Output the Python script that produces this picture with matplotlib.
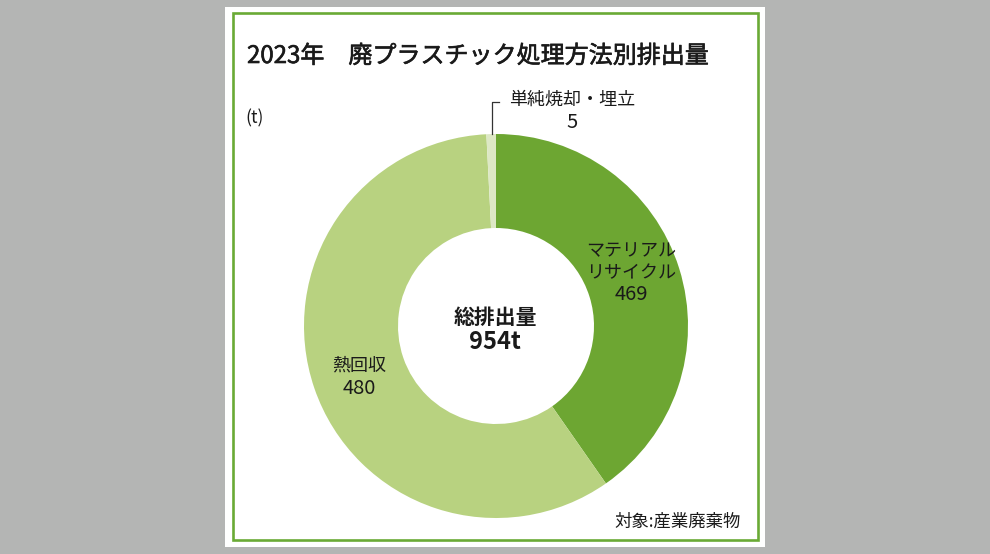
import matplotlib
matplotlib.use("Agg")
import matplotlib.pyplot as plt
import matplotlib.patheffects as pe
from matplotlib.patches import Rectangle

plt.rcParams['font.family'] = ['Noto Sans CJK JP', 'DejaVu Sans']

# data
categories = ["マテリアル\nリサイクル", "熱回収", "単純焼却・埋立"]
values = [469, 480, 5]
# wedge shares (%) as they are drawn in the reference (not to scale with values)
shares = [40.3, 58.9, 0.8]
colors = ["#6da632", "#b8d280", "#dde8c5"]
total = 954

title = "2023年　廃プラスチック処理方法別排出量"
unit = "(t)"
note = "対象:産業廃棄物"

W, H = 990, 554
fig = plt.figure(figsize=(W / 100, H / 100), dpi=100)
fig.patch.set_facecolor("#b4b5b4")
ax = fig.add_axes([0, 0, 1, 1])


def py(y):
    # pixel row (from top) -> data y
    return H - y


# white panel and green frame
ax.add_patch(Rectangle((225, py(547)), 540, 540, facecolor="white", edgecolor="none", zorder=0))
ax.add_patch(Rectangle((233, py(540)), 525, 527, facecolor="none", edgecolor="#6aaa35",
                       linewidth=1.9, zorder=1))

cx, cy = 496, py(326)
ax.pie(shares, colors=colors, startangle=90, counterclock=False, center=(cx, cy),
       radius=192, wedgeprops=dict(width=94, linewidth=0))

# leader line for the small slice
ax.plot([491.5, 491.5, 499], [py(134), py(102), py(102)], color="#333333", lw=0.9)

tc = "#1a1a1a"
num_fs = 14.5
ax.text(247, py(56), title, fontsize=17.3, color=tc, ha="left", va="center",
        path_effects=[pe.withStroke(linewidth=0.45, foreground=tc)])
ax.text(245, py(118), unit, fontsize=12.5, color=tc, ha="left", va="center")

ax.text(572, py(100), categories[2], fontsize=13, color=tc, ha="center", va="center")
ax.text(572, py(123), str(values[2]), fontsize=num_fs, color=tc, ha="center", va="center")

ax.text(631, py(262), categories[0], fontsize=13, color=tc, ha="center", va="center",
        linespacing=1.25)
ax.text(631, py(295), str(values[0]), fontsize=num_fs, color=tc, ha="center", va="center")

ax.text(359, py(366), categories[1], fontsize=13, color=tc, ha="center", va="center")
ax.text(359, py(388), str(values[1]), fontsize=num_fs, color=tc, ha="center", va="center")

ax.text(495, py(317), "総排出量", fontsize=15, fontweight="bold", color=tc, ha="center", va="center")
ax.text(495, py(342), f"{total}t", fontsize=17, fontweight="bold", color=tc, ha="center", va="center")

ax.text(741, py(522), note, fontsize=12.5, color=tc, ha="right", va="center")

ax.set_xlim(0, W)
ax.set_ylim(0, H)
ax.set_aspect("auto")
ax.axis("off")

fig.savefig("out.png", dpi=100, facecolor=fig.get_facecolor())
